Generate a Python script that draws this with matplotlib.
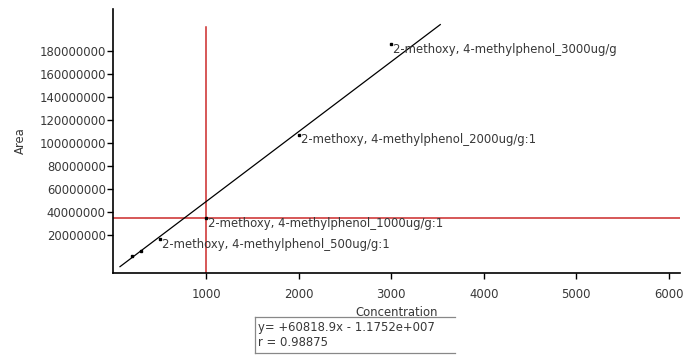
import matplotlib
matplotlib.use("Agg")
import matplotlib.pyplot as plt
from matplotlib.lines import Line2D

# ---- data ----
concentration = [200, 300, 500, 1000, 2000, 3000]
area = [2.0e6, 6.5e6, 16.5e6, 34.8e6, 107.0e6, 186.0e6]
point_labels = ["", "",
                "2-methoxy, 4-methylphenol_500ug/g:1",
                "2-methoxy, 4-methylphenol_1000ug/g:1",
                "2-methoxy, 4-methylphenol_2000ug/g:1",
                "2-methoxy, 4-methylphenol_3000ug/g"]
slope = 60818.9
intercept = -1.1752e7
fit_x_range = [70, 3530]
cross_x = 1000
cross_y = 34.8e6
cross_v_top = 201e6
x_ticks = [1000, 2000, 3000, 4000, 5000, 6000]
y_ticks = [20000000, 40000000, 60000000, 80000000, 100000000,
           120000000, 140000000, 160000000, 180000000]
equation_text = "y= +60818.9x - 1.1752e+007"
r_text = "r = 0.98875"

W, H = 688, 358
fig = plt.figure(figsize=(W / 100, H / 100), dpi=100)
ax_l, ax_r, ax_t, ax_b = 113.5, 680, 9, 273
ax = fig.add_axes([ax_l / W, 1 - ax_b / H, (ax_r - ax_l) / W, (ax_b - ax_t) / H])

plt.rcParams['font.family'] = ['DejaVu Sans']
txt_col = '#383838'
fs = 8.4

ax.set_xlim(0, 6120)
ax.set_ylim(-13.0e6, 216.5e6)

for s in ['top', 'right']:
    ax.spines[s].set_visible(False)
for s in ['left', 'bottom']:
    ax.spines[s].set_linewidth(1.2)
    ax.spines[s].set_color('black')

ax.set_xticks(x_ticks)
ax.set_xticklabels([str(v) for v in x_ticks])
ax.set_yticks(y_ticks)
ax.set_yticklabels([str(v) for v in y_ticks])
ax.tick_params(axis='both', direction='out', length=4.5, width=1.0,
               colors='black', labelcolor=txt_col, labelsize=fs, pad=1)
ax.tick_params(axis='x', pad=6)

# red crosshair
ax.plot([cross_x, cross_x], [ax.get_ylim()[0], cross_v_top], color='#cc2a2a', lw=1.1, zorder=2)
ax.axhline(cross_y, color='#cc2a2a', lw=1.1, zorder=2)

# regression line
fx = fit_x_range
fy = [slope * v + intercept for v in fx]
ax.plot(fx, fy, color='black', lw=0.9, zorder=3)

# points
ax.plot(concentration, area, linestyle='none', marker='s', markersize=2.0,
        color='black', zorder=4)
for x, y, lab in zip(concentration, area, point_labels):
    if lab:
        ax.annotate(lab, (x, y), xytext=(2, -5), textcoords='offset pixels',
                    ha='left', va='center', fontsize=fs, color=txt_col, zorder=5)

ax.set_xlabel("Concentration", fontsize=fs, color=txt_col, labelpad=4)
ax.set_ylabel("Area", fontsize=fs, color=txt_col, labelpad=9)

# equation box
bx0, bx1, by0, by1 = 255, 455, 317, 353
def fx_(px):
    return px / W
def fy_(py):
    return 1 - py / H
box_col = '#888888'
fig.add_artist(Line2D([fx_(bx0), fx_(bx1)], [fy_(by0), fy_(by0)], color=box_col, lw=0.9))
fig.add_artist(Line2D([fx_(bx0), fx_(bx0)], [fy_(by0), fy_(by1)], color=box_col, lw=0.9))
fig.add_artist(Line2D([fx_(bx0), fx_(bx1)], [fy_(by1), fy_(by1)], color=box_col, lw=0.9))
fig.text(fx_(bx0 + 3), fy_(327), equation_text, fontsize=fs, color=txt_col, ha='left', va='center')
fig.text(fx_(bx0 + 3), fy_(343), r_text, fontsize=fs, color=txt_col, ha='left', va='center')

fig.savefig("out.png", dpi=100)
